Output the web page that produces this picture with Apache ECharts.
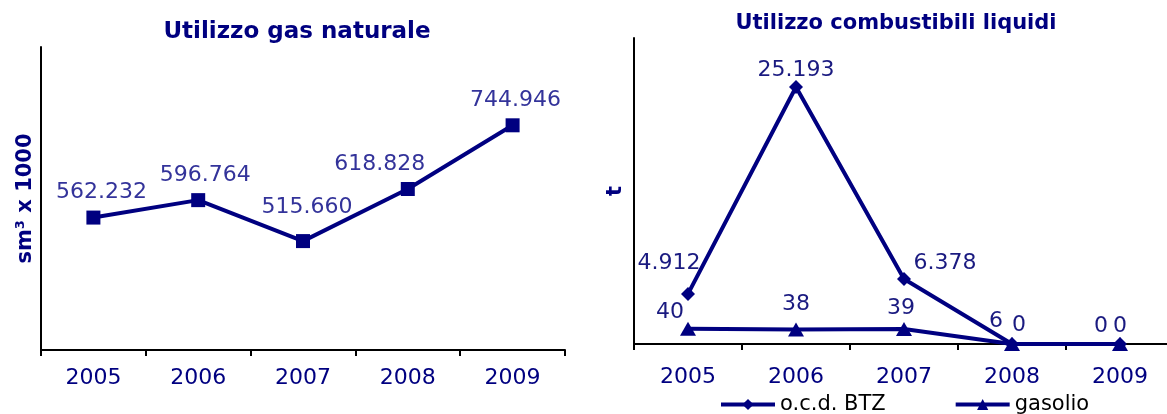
<!DOCTYPE html>
<html>
<head>
<meta charset="utf-8">
<script src="https://cdn.jsdelivr.net/npm/echarts@6/dist/echarts.min.js"></script>
<style>
  html, body { margin: 0; padding: 0; background: #fff; }
  #main { width: 1167px; height: 414px; }
</style>
</head>
<body>
<div id="main"></div>
<script>
// dati
var anni = ['2005', '2006', '2007', '2008', '2009'];
var gasNaturale = [562232, 596764, 515660, 618828, 744946];
var ocdBtz = [4912, 25193, 6378, 6, 0];
var gasolio = [40, 38, 39, 0, 0];

// spostamento etichette (dx, dy)
var gasOff = [[8, -7], [7, -7], [4, -16], [-28, -7], [3, -7]];
var btzOff = [[-19, -13], [0, 1], [41, 2], [-16, -5], [-19, 0]];
var gasolioOff = [[-18, 2], [0, -7], [-3, -3], [7, -1], [0, 0]];

var navy = '#000080';
var font = 'DejaVu Sans';

function fmt(v) {
    return String(v).replace(/\B(?=(\d{3})+(?!\d))/g, '.');
}

function withOffsets(values, offs) {
    return values.map(function (v, i) {
        return { value: v, label: { offset: offs[i] } };
    });
}

function xAxisCfg(gridIndex, margin) {
    return {
        type: 'category',
        gridIndex: gridIndex,
        data: anni,
        axisLine: { lineStyle: { color: '#000', width: 2 } },
        axisTick: { show: true, length: 6, lineStyle: { color: '#000', width: 2 } },
        axisLabel: { color: navy, fontSize: 22, fontFamily: font, margin: margin },
        splitLine: { show: false }
    };
}

function yAxisCfg(gridIndex, min, max, name, gap) {
    return {
        type: 'value',
        gridIndex: gridIndex,
        min: min,
        max: max,
        name: name,
        nameLocation: 'middle',
        nameGap: gap,
        nameTextStyle: { color: navy, fontSize: 21, fontWeight: 'bold', fontFamily: font },
        axisLine: { show: true, lineStyle: { color: '#000', width: 2 } },
        axisTick: { show: false },
        axisLabel: { show: false },
        splitLine: { show: false }
    };
}

function labelCfg(color) {
    return {
        show: true, position: 'top', distance: 0,
        color: color, fontSize: 22, fontFamily: font,
        formatter: function (p) { return fmt(p.value); }
    };
}

var chart = echarts.init(document.getElementById('main'));

var option = {
    animation: false,
    textStyle: { fontFamily: font },
    title: [
        {
            text: 'Utilizzo gas naturale',
            left: 292, top: 16, textAlign: 'center',
            textStyle: { color: navy, fontSize: 23, fontWeight: 'bold', fontFamily: font }
        },
        {
            text: 'Utilizzo combustibili liquidi',
            left: 891, top: 8, textAlign: 'center',
            textStyle: { color: navy, fontSize: 21, fontWeight: 'bold', fontFamily: font }
        }
    ],
    legend: {
        data: ['o.c.d. BTZ', 'gasolio'],
        left: 719, top: 394, padding: 0,
        itemWidth: 54, itemHeight: 14, itemGap: 68,
        lineStyle: { width: 4 },
        textStyle: { color: '#000', fontSize: 21, fontFamily: font }
    },
    grid: [
        { left: 41, top: 47, width: 524, height: 303, outerBoundsMode: 'none' },
        { left: 634, top: 38, width: 540, height: 306, outerBoundsMode: 'none' }
    ],
    xAxis: [xAxisCfg(0, 17), xAxisCfg(1, 22)],
    yAxis: [
        yAxisCfg(0, 300000, 900000, 'sm³ x 1000', 5),
        yAxisCfg(1, 0, 30000, 't', 8),
        { type: 'value', gridIndex: 1, min: 0, max: 800, show: false }
    ],
    series: [
        {
            name: 'gas naturale',
            type: 'line',
            xAxisIndex: 0, yAxisIndex: 0,
            data: withOffsets(gasNaturale, gasOff),
            symbol: 'rect', symbolSize: 14,
            lineStyle: { color: navy, width: 4 },
            itemStyle: { color: navy },
            label: labelCfg('#33339a')
        },
        {
            name: 'o.c.d. BTZ',
            type: 'line',
            xAxisIndex: 1, yAxisIndex: 1,
            data: withOffsets(ocdBtz, btzOff),
            symbol: 'diamond', symbolSize: 14,
            lineStyle: { color: navy, width: 4 },
            itemStyle: { color: navy },
            label: labelCfg('#1a1a80')
        },
        {
            name: 'gasolio',
            type: 'line',
            xAxisIndex: 1, yAxisIndex: 2,
            data: withOffsets(gasolio, gasolioOff),
            symbol: 'triangle', symbolSize: [16, 14],
            lineStyle: { color: navy, width: 4 },
            itemStyle: { color: navy },
            label: labelCfg('#1a1a80')
        }
    ]
};
chart.setOption(option);
</script>
</body>
</html>
